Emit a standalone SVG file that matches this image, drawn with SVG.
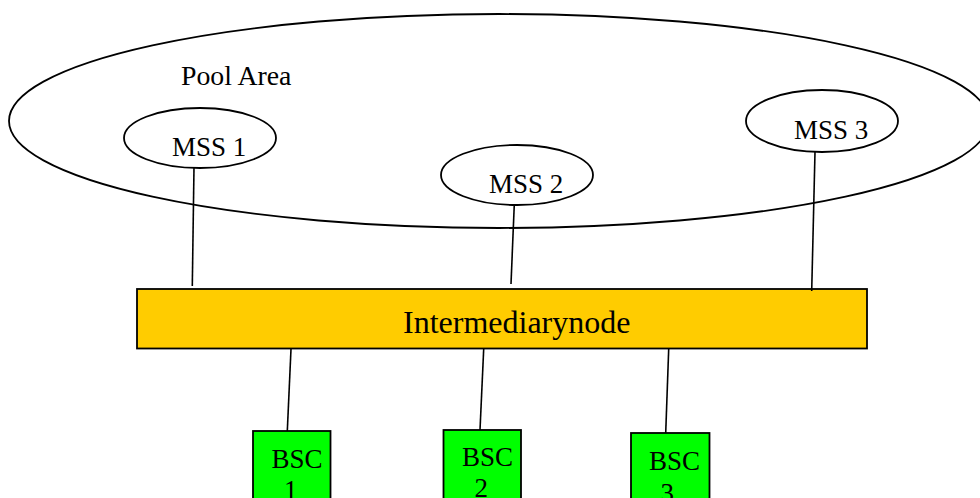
<svg xmlns="http://www.w3.org/2000/svg" width="980" height="498" viewBox="0 0 980 498">
<style>
.ln{stroke:#000;stroke-width:1.6;fill:none}
.el{stroke:#000;stroke-width:1.8;fill:#fff}
.t{font-family:'Liberation Serif','DejaVu Serif',serif;fill:#000}
.bsc{fill:#00ff00;stroke:#000;stroke-width:1.8}
</style>
<rect width="980" height="498" fill="#fff"/>
<g id="pool-area">
<ellipse class="el" cx="499" cy="121" rx="490" ry="107"/>
<text class="t" x="181" y="85" font-size="27.8">Pool Area</text>
</g>
<g id="mss1">
<ellipse class="el" cx="200" cy="138" rx="76" ry="30"/>
<text class="t" x="172" y="156" font-size="27">MSS 1</text>
</g>
<g id="mss2">
<ellipse class="el" cx="517" cy="175" rx="76" ry="30"/>
<text class="t" x="489" y="193" font-size="27">MSS 2</text>
</g>
<g id="mss3">
<ellipse class="el" cx="822" cy="121" rx="76" ry="31"/>
<text class="t" x="794" y="139" font-size="27">MSS 3</text>
</g>
<g id="intermediary">
<rect x="137" y="289" width="730" height="59.5" fill="#ffcc00" stroke="#000" stroke-width="1.8"/>
<text class="t" x="403" y="333" font-size="32">Intermediarynode</text>
</g>
<g id="bsc1">
<rect class="bsc" x="253" y="431" width="77.5" height="90"/>
<text class="t" x="271.5" y="467.5" font-size="27">BSC</text>
<text class="t" x="284" y="499" font-size="27">1</text>
</g>
<g id="bsc2">
<rect class="bsc" x="443.5" y="430" width="77.5" height="90"/>
<text class="t" x="462" y="465.5" font-size="27">BSC</text>
<text class="t" x="474.5" y="497" font-size="27">2</text>
</g>
<g id="bsc3">
<rect class="bsc" x="631" y="433" width="78.5" height="90"/>
<text class="t" x="649" y="470" font-size="27">BSC</text>
<text class="t" x="660.5" y="502" font-size="27">3</text>
</g>
<g id="connectors">
<line class="ln" x1="194" y1="167" x2="192.3" y2="286"/>
<line class="ln" x1="514.3" y1="204" x2="511" y2="284"/>
<line class="ln" x1="815" y1="152" x2="811.7" y2="291"/>
<line class="ln" x1="291" y1="349" x2="287.3" y2="431"/>
<line class="ln" x1="483.7" y1="349" x2="480" y2="430"/>
<line class="ln" x1="668.7" y1="349" x2="665.7" y2="433"/>
</g>
</svg>
